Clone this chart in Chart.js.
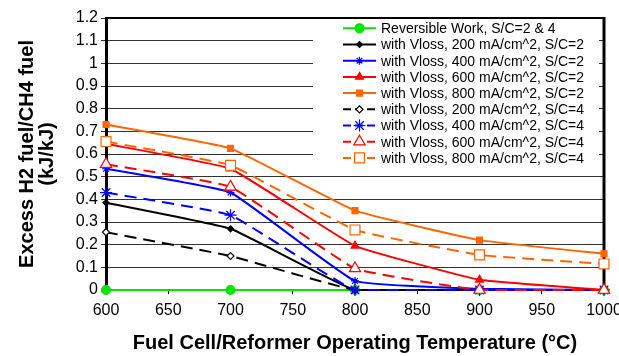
<!DOCTYPE html>
<html>
<head>
<meta charset="utf-8">
<script src="https://cdn.jsdelivr.net/npm/chart.js@4"></script>
<style>
  html, body { margin: 0; padding: 0; background: #fff; }
  #wrap { width: 619px; height: 356px; }
</style>
</head>
<body>
<div id="wrap"><canvas id="chart1" width="619" height="356"></canvas></div>
<script>
// operating temperature (C)
var temps = [600, 700, 800, 900, 1000];

// excess H2 fuel / CH4 fuel (kJ/kJ)
var reversible = [0, 0, 0, 0, 0];
var v200sc2 = [0.385, 0.27, 0, 0, 0];
var v400sc2 = [0.535, 0.43, 0.04, 0.005, 0];
var v600sc2 = [0.645, 0.535, 0.195, 0.045, 0];
var v800sc2 = [0.73, 0.625, 0.35, 0.22, 0.16];
var v200sc4 = [0.255, 0.15, 0, 0, 0];
var v400sc4 = [0.43, 0.33, 0, 0, 0];
var v600sc4 = [0.555, 0.455, 0.095, 0, 0];
var v800sc4 = [0.655, 0.55, 0.265, 0.155, 0.115];

var seriesNames = [
    'Reversible Work, S/C=2 & 4',
    'with Vloss, 200 mA/cm^2, S/C=2',
    'with Vloss, 400 mA/cm^2, S/C=2',
    'with Vloss, 600 mA/cm^2, S/C=2',
    'with Vloss, 800 mA/cm^2, S/C=2',
    'with Vloss, 200 mA/cm^2, S/C=4',
    'with Vloss, 400 mA/cm^2, S/C=4',
    'with Vloss, 600 mA/cm^2, S/C=4',
    'with Vloss, 800 mA/cm^2, S/C=4'
];

var GREEN = '#00e600';
var BLUE = '#0000ff';
var RED = '#ff0000';
var ORANGE = '#ff6600';
var DASH = [12, 7];
var FONT = '"Liberation Sans", Arial, sans-serif';

function pts(vals) {
    return vals.map(function (v, i) { return { x: temps[i], y: v }; });
}

// one style entry per series
var styles = [
    { data: reversible, color: GREEN, point: 'circle', r: 4.5, fill: GREEN, dash: [] },
    { data: v200sc2, color: '#000', point: 'rectRot', r: 3, fill: '#000', dash: [] },
    { data: v400sc2, color: BLUE, point: 'star', r: 4, fill: BLUE, dash: [] },
    { data: v600sc2, color: RED, point: 'triangle', r: 4.5, fill: RED, dash: [] },
    { data: v800sc2, color: ORANGE, point: 'rect', r: 4.2, fill: ORANGE, dash: [] },
    { data: v200sc4, color: '#000', point: 'rectRot', r: 3.5, fill: '#fff', dash: DASH },
    { data: v400sc4, color: BLUE, point: 'star', r: 6, fill: BLUE, dash: DASH },
    { data: v600sc4, color: RED, point: 'triangle', r: 6.5, fill: '#fff', dash: DASH },
    { data: v800sc4, color: ORANGE, point: 'rect', r: 7, fill: '#fff', dash: DASH }
];

var datasets = styles.map(function (s, i) {
    return {
        label: seriesNames[i],
        data: pts(s.data),
        borderColor: s.color,
        backgroundColor: s.fill,
        borderWidth: 2,
        borderDash: s.dash,
        pointStyle: s.point,
        pointRadius: s.r,
        pointBorderColor: s.color,
        pointBackgroundColor: s.fill,
        pointBorderWidth: 1.2,
        tension: 0.1,
        clip: false,
        order: 8 - i
    };
});

// frame round the plot area
var framePlugin = {
    id: 'frame',
    beforeDatasetsDraw: function (chart) {
        var a = chart.chartArea, ctx = chart.ctx;
        ctx.save();
        ctx.strokeStyle = '#000';
        ctx.lineWidth = 2;
        ctx.beginPath();
        ctx.moveTo(a.left, a.top);
        ctx.lineTo(a.right, a.top);
        ctx.stroke();
        ctx.lineWidth = 3;
        ctx.beginPath();
        ctx.moveTo(a.right, a.top - 1);
        ctx.lineTo(a.right, a.bottom);
        ctx.stroke();
        ctx.restore();
    }
};

// excel style legend: line sample with marker, on a white box
var legendPlugin = {
    id: 'xlLegend',
    afterDraw: function (chart) {
        var ctx = chart.ctx;
        ctx.save();
        ctx.fillStyle = '#fff';
        ctx.fillRect(313, 19, 286, 146);
        ctx.font = '14px ' + FONT;
        ctx.textBaseline = 'middle';
        styles.forEach(function (s, i) {
            var y = 28.3 + i * 16.2;
            ctx.strokeStyle = s.color;
            ctx.lineWidth = 2;
            ctx.setLineDash(s.dash.length ? [8, 4] : []);
            ctx.beginPath();
            ctx.moveTo(343, y);
            ctx.lineTo(376, y);
            ctx.stroke();
            ctx.setLineDash([]);
            ctx.fillStyle = s.fill;
            ctx.lineWidth = 1.2;
            Chart.helpers.drawPoint(ctx, { pointStyle: s.point, radius: s.r, rotation: 0, borderWidth: 1.2 }, 359.5, y);
            ctx.fillStyle = '#000';
            ctx.fillText(seriesNames[i], 381, y + 1);
        });
        ctx.restore();
    }
};

var ctx = document.getElementById('chart1');
var chart1 = new Chart(ctx, {
    type: 'line',
    data: { datasets: datasets },
    options: {
        responsive: false,
        animation: false,
        layout: { padding: { left: 8, right: 15, top: 18, bottom: 0 } },
        plugins: {
            legend: { display: false },
            tooltip: { enabled: false }
        },
        scales: {
            x: {
                type: 'linear',
                min: 600,
                max: 1000,
                afterFit: function (scale) {
                    scale.height = 66;
                    scale.paddingRight = 0;
                },
                ticks: {
                    stepSize: 50,
                    color: '#000',
                    padding: 7,
                    maxRotation: 0,
                    font: { family: FONT, size: 16 },
                    callback: function (v) { return String(v); }
                },
                grid: { drawOnChartArea: false, drawTicks: true, tickLength: 4, color: '#000' },
                border: { color: '#000', width: 2 },
                title: {
                    display: true,
                    text: 'Fuel Cell/Reformer Operating Temperature (°C)',
                    color: '#000',
                    padding: { top: 0, bottom: 1 },
                    font: { family: FONT, size: 20, weight: 'bold', lineHeight: 1.2 }
                }
            },
            y: {
                min: 0,
                max: 1.2,
                afterFit: function (scale) {
                    scale.width = 98;
                },
                ticks: {
                    stepSize: 0.1,
                    color: '#000',
                    padding: 3,
                    font: { family: FONT, size: 16 },
                    callback: function (v) { return Math.round(v * 10) / 10; }
                },
                grid: { color: '#333', lineWidth: 1, tickLength: 5 },
                border: { color: '#000', width: 3 },
                title: {
                    display: true,
                    text: ['Excess H2 fuel/CH4 fuel', '(kJ/kJ)'],
                    color: '#000',
                    padding: { top: 9, bottom: 0 },
                    font: { family: FONT, size: 20, weight: 'bold', lineHeight: 1.0 }
                }
            }
        }
    },
    plugins: [framePlugin, legendPlugin]
});
</script>
</body>
</html>
